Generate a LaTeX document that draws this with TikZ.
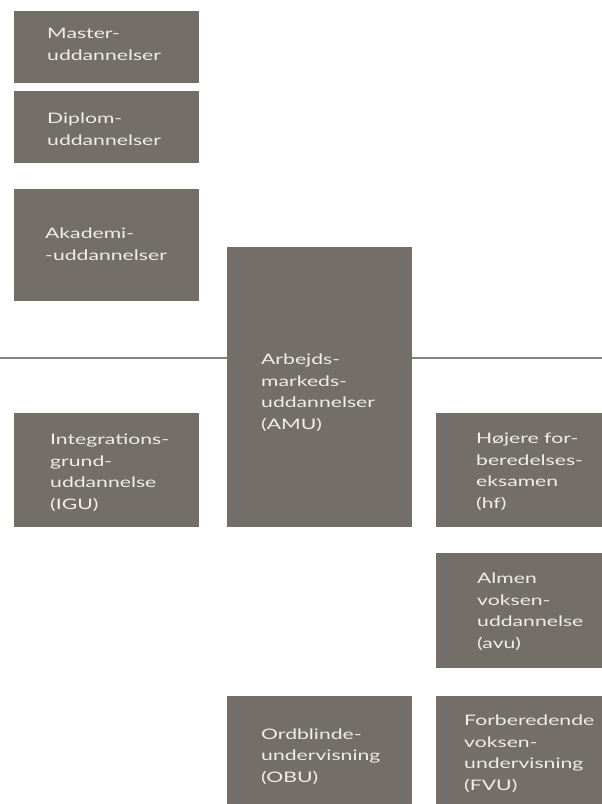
\documentclass[tikz,border=0pt]{standalone}
\usepackage{fontspec}
\setmainfont{Lato}[FakeStretch=1.46]
\definecolor{boxgray}{RGB}{115,110,104}
\definecolor{linegray}{RGB}{135,130,125}
\definecolor{txtgray}{RGB}{238,238,236}
\begin{document}
\begin{tikzpicture}[x=1pt,y=-1pt,
  box/.style={fill=boxgray, draw=none, inner sep=0pt, anchor=north west},
  lbl/.style={text=txtgray, align=left, inner sep=0pt, anchor=base west,
    font=\fontsize{14.5}{21.5}\selectfont},
  sep/.style={draw=linegray, line width=1.6pt}]
\useasboundingbox (0,0) rectangle (602,804);
% boxes
\node[box, minimum width=185pt, minimum height=72pt] (master) at (14,11) {};
\node[box, minimum width=185pt, minimum height=72pt] (diplom) at (14,91) {};
\node[box, minimum width=185pt, minimum height=112pt] (akademi) at (14,189) {};
\node[box, minimum width=185pt, minimum height=280pt] (amu) at (227,247) {};
\node[box, minimum width=185pt, minimum height=114pt] (igu) at (14,413) {};
\node[box, minimum width=166pt, minimum height=114pt] (hf) at (436,413) {};
\node[box, minimum width=166pt, minimum height=115pt] (avu) at (436,553) {};
\node[box, minimum width=185pt, minimum height=108pt] (obu) at (227,696) {};
\node[box, minimum width=166pt, minimum height=108pt] (fvu) at (436,696) {};
% separator line
\coordinate (lend) at (0,358);
\coordinate (rend) at (602,358);
\draw[sep] (lend) -- (amu.west |- lend);
\draw[sep] (amu.east |- rend) -- (rend);
% labels (anchor at baseline of last line)
\node[lbl] (tmaster) at (47,60) {Master-\\uddannelser};
\node[lbl] (tdiplom) at (47,145) {Diplom-\\uddannelser};
\node[lbl] (takademi) at (45,260) {Akademi-\\-uddannelser};
\node[lbl] (tamu) at (261,429) {Arbejds-\\markeds-\\uddannelser\\(AMU)};
\node[lbl] (tigu) at (50,509) {Integrations-\\grund-\\uddannelse\\(IGU)};
\node[lbl] (thf) at (476,508) {Højere for-\\beredelses-\\eksamen\\(hf)};
\node[lbl] (tavu) at (477,648) {Almen\\voksen-\\uddannelse\\(avu)};
\node[lbl] (tobu) at (261,782) {Ordblinde-\\undervisning\\(OBU)};
\node[lbl] (tfvu) at (464,790) {Forberedende\\voksen-\\undervisning\\(FVU)};
\end{tikzpicture}
\end{document}
